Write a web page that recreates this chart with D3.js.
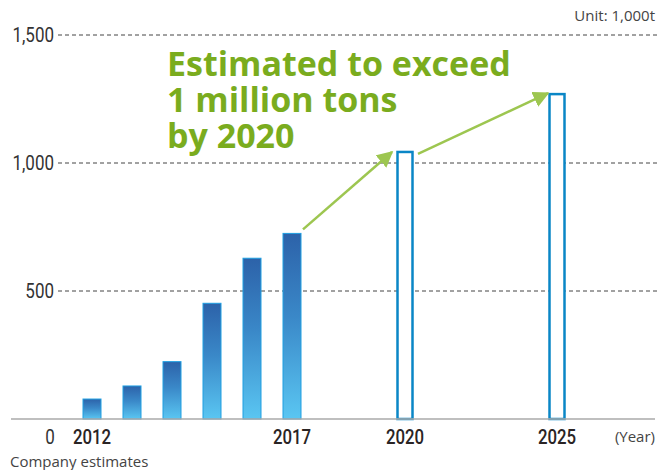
<!DOCTYPE html>
<meta charset="utf-8">
<style>
body { margin: 0; background: #fff; }
text { font-family: "Open Sans", "DejaVu Sans", sans-serif; }
.grid line { stroke: #444; stroke-width: 1; stroke-dasharray: 4,3; }
.tick-label { font-family: Roboto, sans-serif; font-size: 20px; fill: #333; }
.year { font-family: Roboto, sans-serif; font-weight: 500; font-size: 21px; fill: #2a2424; }
.note { font-size: 15px; fill: #444; }
.callout { font-family: "Open Sans", sans-serif; font-weight: bold; font-size: 34px; fill: #7aac1e; }
</style>
<body></body>
<script src="https://d3js.org/d3.v7.min.js"></script>
<script>
// data (1,000t)
var actualYears = [2012, 2013, 2014, 2015, 2016, 2017];
var actualValues = [78, 129, 224, 452, 628, 725];
var forecastYears = [2020, 2025];
var forecastValues = [1047, 1273];
var yTicks = [500, 1000, 1500];
var yearLabels = [2012, 2017, 2020, 2025];
var calloutLines = ["Estimated to exceed", "1 million tons", "by 2020"];

var width = 670, height = 470;

var svg = d3.select("body").append("svg")
    .attr("width", width)
    .attr("height", height);

// years aren't evenly spaced on the original, so use a piecewise scale
var x = d3.scaleLinear()
    .domain([2012, 2017, 2020, 2025])
    .range([92, 292, 405, 557]);

var y = d3.scaleLinear()
    .domain([0, 1500])
    .range([419, 35]);

var barW = 18;

var defs = svg.append("defs");
var grad = defs.append("linearGradient")
    .attr("id", "barGrad")
    .attr("x1", 0).attr("y1", 0).attr("x2", 0).attr("y2", 1);
grad.append("stop").attr("offset", "0%").attr("stop-color", "#2c62a9");
grad.append("stop").attr("offset", "45%").attr("stop-color", "#3a88c8");
grad.append("stop").attr("offset", "100%").attr("stop-color", "#5ac6f2");

var head = defs.append("marker")
    .attr("id", "head")
    .attr("viewBox", "0 0 10 10")
    .attr("refX", 9).attr("refY", 5)
    .attr("markerWidth", 6.5).attr("markerHeight", 6.5)
    .attr("markerUnits", "strokeWidth")
    .attr("orient", "auto");
head.append("path").attr("d", "M0,0 L10,5 L0,10 Z").attr("fill", "#9dc650");

// condensed-looking labels: squeeze text horizontally
function squeeze(sx) {
  return function(sel) {
    sel.attr("transform", function() {
      var t = d3.select(this);
      return "translate(" + t.attr("x") + "," + t.attr("y") + ") scale(" + sx + ",1)";
    }).attr("x", 0).attr("y", 0);
  };
}

// gridlines
svg.append("g").attr("class", "grid")
  .selectAll("line")
  .data(yTicks)
  .join("line")
    .attr("x1", 58).attr("x2", 657)
    .attr("y1", d => y(d)).attr("y2", d => y(d));

svg.append("g")
  .selectAll("text")
  .data(yTicks)
  .join("text")
    .attr("class", "tick-label")
    .attr("x", 54)
    .attr("y", d => y(d) + 7)
    .attr("text-anchor", "end")
    .text(d => d3.format(",")(d))
    .call(squeeze(0.85));

// actual bars
svg.append("g")
  .selectAll("rect")
  .data(actualYears)
  .join("rect")
    .attr("x", d => x(d) - barW / 2)
    .attr("y", (d, i) => y(actualValues[i]))
    .attr("width", barW)
    .attr("height", (d, i) => y(0) - y(actualValues[i]))
    .attr("fill", "url(#barGrad)")
    .attr("stroke", "#1e9fe2")
    .attr("stroke-width", 1);

// forecast bars (hollow)
svg.append("g")
  .selectAll("rect")
  .data(forecastYears)
  .join("rect")
    .attr("x", d => x(d) - 7.5)
    .attr("y", (d, i) => y(forecastValues[i]) + 1)
    .attr("width", 15)
    .attr("height", (d, i) => y(0) - y(forecastValues[i]) - 1)
    .attr("fill", "#fff")
    .attr("stroke", "#0a86c6")
    .attr("stroke-width", 2.5);

// baseline
svg.append("line")
    .attr("x1", 11).attr("x2", 655)
    .attr("y1", y(0)).attr("y2", y(0))
    .attr("stroke", "#aaa").attr("stroke-width", 1.5);

svg.append("text")
    .attr("class", "tick-label")
    .attr("x", 50).attr("y", 444)
    .attr("text-anchor", "middle")
    .text("0")
    .call(squeeze(0.85));

svg.append("g")
  .selectAll("text")
  .data(yearLabels)
  .join("text")
    .attr("class", "year")
    .attr("x", d => x(d))
    .attr("y", 444)
    .attr("text-anchor", "middle")
    .text(d => d)
    .call(squeeze(0.8));

svg.append("text")
    .attr("class", "note")
    .attr("x", 655).attr("y", 442)
    .attr("text-anchor", "end")
    .text("(Year)");

svg.append("text")
    .attr("class", "note")
    .attr("x", 10).attr("y", 467)
    .text("Company estimates");

svg.append("text")
    .attr("class", "note")
    .attr("x", 655).attr("y", 21)
    .attr("text-anchor", "end")
    .text("Unit: 1,000t");

// arrows between bar tops
var arrows = [
  [x(2017) + 11, y(actualValues[5]) - 4, x(2020) - 13, y(forecastValues[0]) + 1],
  [x(2020) + 13, y(forecastValues[0]) + 3, x(2025) - 9, y(forecastValues[1])]
];
svg.append("g")
  .selectAll("line")
  .data(arrows)
  .join("line")
    .attr("x1", d => d[0]).attr("y1", d => d[1])
    .attr("x2", d => d[2]).attr("y2", d => d[3])
    .attr("stroke", "#9dc650")
    .attr("stroke-width", 2.5)
    .attr("marker-end", "url(#head)");

// callout as one text block
svg.append("text")
    .attr("class", "callout")
    .attr("x", 167)
    .attr("y", 76)
  .selectAll("tspan")
  .data(calloutLines)
  .join("tspan")
    .attr("x", 167)
    .attr("dy", (d, i) => i === 0 ? 0 : 36)
    .text(d => d);
</script>
